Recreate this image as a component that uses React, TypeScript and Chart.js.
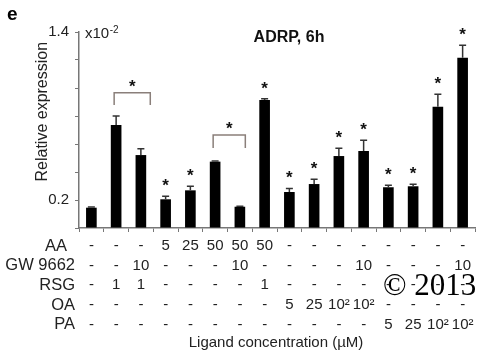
import { useEffect, useRef } from "react";
import { Chart, registerables } from "chart.js";

Chart.register(...registerables);

// ---- data ----
const categories = ["1", "2", "3", "4", "5", "6", "7", "8", "9", "10", "11", "12", "13", "14", "15", "16"];
const values = [0.145, 0.736, 0.521, 0.205, 0.269, 0.474, 0.152, 0.914, 0.257, 0.314, 0.514, 0.55, 0.291, 0.298, 0.866, 1.216];
const errorTops = [0.15, 0.8, 0.566, 0.226, 0.298, 0.479, 0.156, 0.924, 0.283, 0.348, 0.569, 0.626, 0.305, 0.312, 0.955, 1.305];
const starred = [false, false, false, true, true, false, false, true, true, true, true, true, true, true, true, true];
const yTickLabels = [0.2, 1.4];
const rowLabels = ["AA", "GW 9662", "RSG", "OA", "PA"];
const rowAA = ["-", "-", "-", "5", "25", "50", "50", "50", "-", "-", "-", "-", "-", "-", "-", "-"];
const rowGW = ["-", "-", "10", "-", "-", "-", "10", "-", "-", "-", "-", "10", "-", "-", "-", "10"];
const rowRSG = ["-", "1", "1", "-", "-", "-", "-", "1", "-", "-", "-", "-", "-", "-", "-", "-"];
const rowOA = ["-", "-", "-", "-", "-", "-", "-", "-", "5", "25", "10²", "10²", "-", "-", "-", "-"];
const rowPA = ["-", "-", "-", "-", "-", "-", "-", "-", "-", "-", "-", "-", "5", "25", "10²", "10²"];
const rows = [rowAA, rowGW, rowRSG, rowOA, rowPA];
// significance brackets: from/to in category units, levels in value units
const bracketFrom = [0.92, 4.92];
const bracketTo = [2.38, 6.22];
const bracketTop = [0.966, 0.664];
const bracketLeg = [0.879, 0.571];

const FONT = "'Liberation Sans', Arial, sans-serif";

export default function App() {
  const ref = useRef<HTMLCanvasElement | null>(null);

  useEffect(() => {
    const canvas = ref.current;
    if (!canvas) return;

    const overlay = {
      id: "overlay",
      afterDraw(chart: any) {
        const ctx = chart.ctx as CanvasRenderingContext2D;
        const xs = chart.scales.x;
        const ys = chart.scales.y;
        ctx.save();
        // error bars
        ctx.strokeStyle = "#333";
        ctx.lineWidth = 1.5;
        for (let i = 0; i < values.length; i++) {
          const x = xs.getPixelForValue(i);
          const y0 = ys.getPixelForValue(values[i]);
          const y1 = ys.getPixelForValue(errorTops[i]);
          ctx.beginPath();
          ctx.moveTo(x, y0);
          ctx.lineTo(x, y1);
          ctx.moveTo(x - 3.5, y1);
          ctx.lineTo(x + 3.5, y1);
          ctx.stroke();
        }
        // stars
        ctx.fillStyle = "#111";
        ctx.font = `bold 17px ${FONT}`;
        ctx.textAlign = "center";
        ctx.textBaseline = "alphabetic";
        for (let i = 0; i < values.length; i++) {
          if (!starred[i]) continue;
          const x = xs.getPixelForValue(i);
          const y1 = ys.getPixelForValue(errorTops[i]);
          ctx.fillText("*", x, y1 - 5);
        }
        // brackets
        ctx.strokeStyle = "#8a7f7a";
        ctx.lineWidth = 1.5;
        const step = xs.getPixelForValue(1) - xs.getPixelForValue(0);
        for (let b = 0; b < bracketFrom.length; b++) {
          const xa = xs.getPixelForValue(0) + bracketFrom[b] * step;
          const xb = xs.getPixelForValue(0) + bracketTo[b] * step;
          const yt = ys.getPixelForValue(bracketTop[b]);
          const yl = ys.getPixelForValue(bracketLeg[b]);
          ctx.beginPath();
          ctx.moveTo(xa, yl);
          ctx.lineTo(xa, yt);
          ctx.lineTo(xb, yt);
          ctx.lineTo(xb, yl);
          ctx.stroke();
          ctx.fillText("*", (xa + xb) / 2, yt - 1);
        }
        // panel letter
        ctx.fillStyle = "#000";
        ctx.textAlign = "left";
        ctx.font = `bold 19px ${FONT}`;
        ctx.fillText("e", 7, 20);
        // title
        ctx.textAlign = "center";
        ctx.font = `bold 16px ${FONT}`;
        ctx.fillStyle = "#111";
        ctx.fillText("ADRP, 6h", 289, 41.7);
        // x10^-2
        ctx.textAlign = "left";
        ctx.font = `15px ${FONT}`;
        ctx.fillStyle = "#222";
        ctx.fillText("x10", 85, 38);
        const w = ctx.measureText("x10").width;
        ctx.font = `10px ${FONT}`;
        ctx.fillText("-2", 85 + w + 0.5, 33);
        // y title
        ctx.save();
        ctx.translate(47, 111.7);
        ctx.rotate(-Math.PI / 2);
        ctx.textAlign = "center";
        ctx.font = `16px ${FONT}`;
        ctx.fillText("Relative expression", 0, 0);
        ctx.restore();
        // rows
        const rowY = [246, 265.5, 285, 305, 324.5];
        ctx.textBaseline = "middle";
        for (let r = 0; r < rows.length; r++) {
          ctx.textAlign = "right";
          ctx.font = `16.5px ${FONT}`;
          ctx.fillText(rowLabels[r], r === 0 ? 67 : 75, rowY[r]);
          ctx.textAlign = "center";
          ctx.font = `15px ${FONT}`;
          for (let i = 0; i < rows[r].length; i++) {
            ctx.fillText(rows[r][i], xs.getPixelForValue(i), rowY[r]);
          }
        }
        ctx.textAlign = "center";
        ctx.font = `15px ${FONT}`;
        ctx.fillText("Ligand concentration (µM)", 276, 343);
        // watermark
        ctx.textAlign = "left";
        ctx.textBaseline = "alphabetic";
        ctx.fillStyle = "#000";
        ctx.font = `31px 'Liberation Serif', 'Times New Roman', serif`;
        ctx.fillText("© 2013", 383, 295);
        ctx.restore();
      },
    };

    const chart = new Chart(canvas, {
      type: "bar",
      data: {
        labels: categories,
        datasets: [
          {
            data: values,
            backgroundColor: "#000",
            borderWidth: 0,
            barPercentage: 0.43,
            categoryPercentage: 1,
          },
        ],
      },
      options: {
        responsive: false,
        animation: false,
        devicePixelRatio: 1,
        layout: { padding: { top: 32, right: 2, left: 0, bottom: 0 } },
        plugins: { legend: { display: false }, tooltip: { enabled: false }, title: { display: false } },
        scales: {
          x: {
            type: "category",
            offset: true,
            grid: { display: true, drawOnChartArea: false, drawTicks: true, tickLength: 4, offset: true, color: "#777", lineWidth: 1 },
            border: { display: true, color: "#777", width: 1.5 },
            ticks: { display: false },
            afterFit: (s: any) => {
              s.height = 126;
            },
          },
          y: {
            min: 0,
            max: 1.4,
            grid: { display: true, drawOnChartArea: false, drawTicks: true, tickLength: 4, color: "#777", lineWidth: 1 },
            border: { display: true, color: "#777", width: 1.5 },
            ticks: {
              stepSize: 0.2,
              padding: 6,
              color: "#222",
              font: { family: FONT, size: 15 },
              callback: (v: any) => {
                const n = Number(v);
                return yTickLabels.some((t) => Math.abs(t - n) < 1e-6) ? n.toFixed(1) : "";
              },
            },
            afterFit: (s: any) => {
              s.width = 79;
            },
          },
        },
      },
      plugins: [overlay],
    });

    return () => chart.destroy();
  }, []);

  return (
    <div style={{ position: "absolute", left: 0, top: 0, width: 477, height: 354, background: "#fff" }}>
      <canvas ref={ref} width={477} height={354} style={{ width: 477, height: 354, display: "block" }} />
    </div>
  );
}
